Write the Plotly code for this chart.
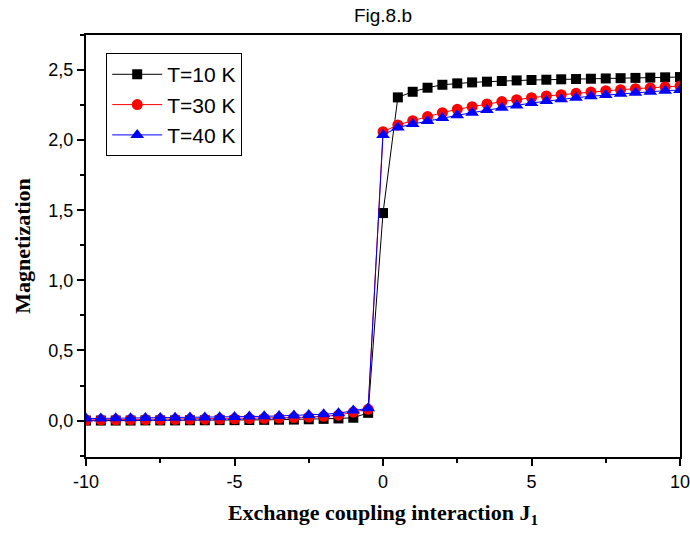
import plotly.graph_objects as go

# Exchange coupling J1 grid (step 0.5)
j1 = [-10.0, -9.5, -9.0, -8.5, -8.0, -7.5, -7.0, -6.5, -6.0, -5.5,
      -5.0, -4.5, -4.0, -3.5, -3.0, -2.5, -2.0, -1.5, -1.0, -0.5,
      0.0, 0.5, 1.0, 1.5, 2.0, 2.5, 3.0, 3.5, 4.0, 4.5,
      5.0, 5.5, 6.0, 6.5, 7.0, 7.5, 8.0, 8.5, 9.0, 9.5, 10.0]

# Magnetization at each temperature
m_10k = [0.000, 0.000, 0.000, 0.000, 0.001, 0.001, 0.001, 0.002, 0.002, 0.003,
         0.003, 0.004, 0.005, 0.006, 0.007, 0.009, 0.012, 0.015, 0.020, 0.055,
         1.48, 2.305, 2.345, 2.374, 2.395, 2.405, 2.412, 2.417, 2.422, 2.426,
         2.429, 2.431, 2.434, 2.436, 2.438, 2.440, 2.442, 2.444, 2.446, 2.448, 2.450]
m_30k = [0.004, 0.005, 0.005, 0.006, 0.006, 0.007, 0.008, 0.009, 0.010, 0.011,
         0.012, 0.014, 0.016, 0.018, 0.021, 0.025, 0.030, 0.038, 0.060, 0.080,
         2.060, 2.108, 2.139, 2.168, 2.196, 2.220, 2.239, 2.258, 2.275, 2.289,
         2.303, 2.315, 2.324, 2.334, 2.343, 2.353, 2.360, 2.367, 2.372, 2.379, 2.386]
m_40k = [0.014, 0.015, 0.016, 0.017, 0.018, 0.019, 0.020, 0.021, 0.022, 0.024,
         0.026, 0.028, 0.030, 0.033, 0.036, 0.040, 0.045, 0.052, 0.072, 0.088,
         2.037, 2.090, 2.115, 2.137, 2.158, 2.177, 2.196, 2.215, 2.231, 2.248,
         2.265, 2.279, 2.291, 2.303, 2.313, 2.322, 2.331, 2.338, 2.345, 2.353, 2.357]

# Axis tick labels
x_tickvals = [-10, -5, 0, 5, 10]
x_ticktext = ["-10", "-5", "0", "5", "10"]
y_tickvals = [0.0, 0.5, 1.0, 1.5, 2.0, 2.5]
y_ticktext = ["0,0", "0,5", "1,0", "1,5", "2,0", "2,5"]

series = [
    ("T=10 K", m_10k, "black", "square", 10),
    ("T=30 K", m_30k, "red", "circle", 11),
    ("T=40 K", m_40k, "blue", "triangle-up", 12),
]

fig = go.Figure()
for name, vals, color, symbol, size in series:
    fig.add_trace(go.Scatter(
        x=j1, y=vals, name=name, mode="lines+markers",
        line=dict(color=color, width=1),
        marker=dict(color=color, symbol=symbol, size=size, line=dict(width=0)),
    ))

axis_common = dict(
    showline=True, linecolor="black", linewidth=2, mirror=True,
    showgrid=False, zeroline=False, automargin=False,
    ticks="outside", ticklen=7, tickwidth=1.5, tickcolor="black",
    ticklabeloverflow="allow",
    tickfont=dict(family="Liberation Sans, Arial", size=18, color="black"),
)

fig.update_layout(
    width=690, height=535,
    margin=dict(l=86, r=10, t=35, b=78),
    paper_bgcolor="white", plot_bgcolor="white",
    title=dict(text="Fig.8.b", x=0.555, xanchor="center", y=0.972, yanchor="middle",
               font=dict(family="Liberation Sans, Arial", size=19, color="black")),
    xaxis=dict(
        range=[-10, 10], tickmode="array", tickvals=x_tickvals, ticktext=x_ticktext,
        minor=dict(dtick=2.5, tick0=-10, ticks="outside", ticklen=4, tickwidth=1.5, tickcolor="black"),
        title=dict(text="<b>Exchange coupling interaction J<sub>1</sub></b>",
                   font=dict(family="Liberation Serif, Times New Roman", size=22, color="black"),
                   standoff=14),
        **axis_common,
    ),
    yaxis=dict(
        range=[-0.26, 2.75], tickmode="array", tickvals=y_tickvals, ticktext=y_ticktext,
        minor=dict(dtick=0.25, tick0=0, ticks="outside", ticklen=4, tickwidth=1.5, tickcolor="black"),
        title=dict(text="<b>Magnetization</b>",
                   font=dict(family="Liberation Serif, Times New Roman", size=22, color="black"),
                   standoff=12),
        **axis_common,
    ),
    legend=dict(
        x=0.034, y=0.957, xanchor="left", yanchor="top",
        bgcolor="white", bordercolor="black", borderwidth=1,
        font=dict(family="Liberation Sans, Arial", size=21, color="black"),
        itemwidth=50, tracegroupgap=0,
        entrywidth=140, entrywidthmode="pixels",
    ),
    showlegend=True,
)

fig.write_html("out.html")
